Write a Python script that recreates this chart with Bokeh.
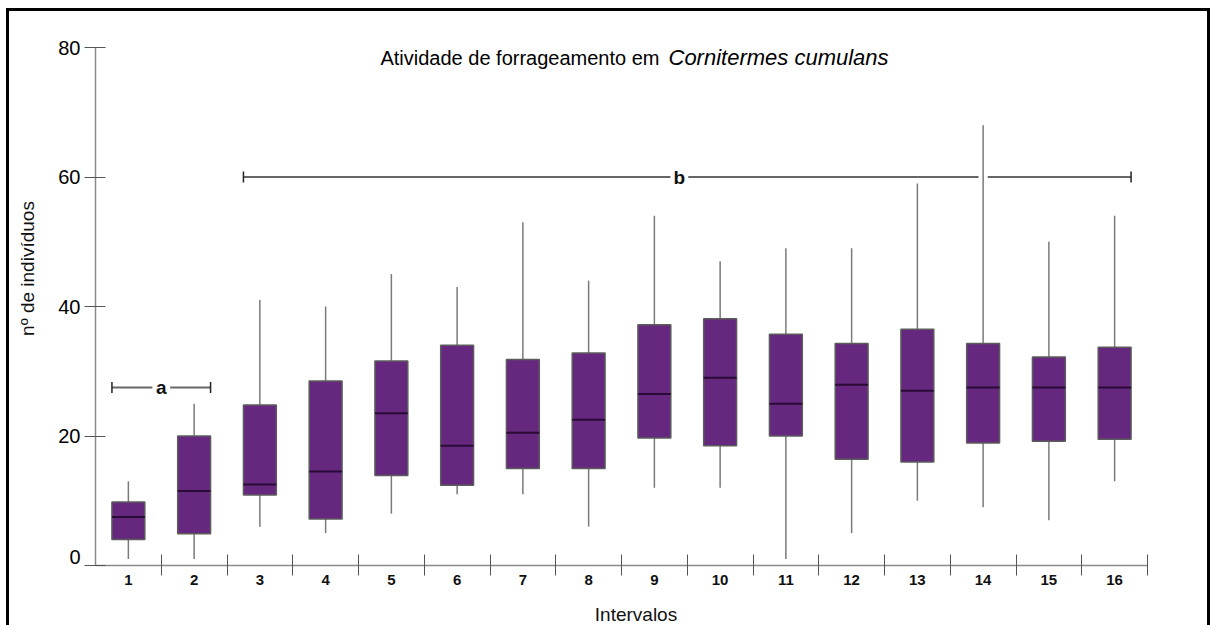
import math
from bokeh.plotting import figure
from bokeh.models import FixedTicker, Label, LinearAxis
from bokeh.embed import file_html
from bokeh.resources import INLINE

# ---- data ----
intervals = list(range(1, 17))
tick_labels = [str(i) for i in intervals]
whisker_low = [1, 1, 6, 5, 8, 11, 11, 6, 12, 12, 1, 5, 10, 9, 7, 13]
q1 = [4.0, 4.9, 10.9, 7.2, 13.9, 12.4, 15.0, 15.0, 19.7, 18.5, 20.0, 16.4, 16.0, 18.9, 19.2, 19.5]
median = [7.5, 11.5, 12.5, 14.5, 23.5, 18.5, 20.5, 22.5, 26.5, 29.0, 25.0, 27.9, 27.0, 27.5, 27.5, 27.5]
q3 = [9.8, 20.0, 24.8, 28.5, 31.6, 34.0, 31.8, 32.8, 37.2, 38.1, 35.7, 34.3, 36.5, 34.3, 32.2, 33.7]
whisker_high = [13, 25, 41, 40, 45, 43, 53, 44, 54, 47, 49, 49, 59, 68, 50, 54]
y_ticks = [0, 20, 40, 60, 80]
group_labels = ["a", "b"]
group_first = [1, 3]
group_last = [2, 16]
group_y = [27.5, 60]

FONT = "Liberation Sans"
BOX_W = 0.5
PURPLE = "#65287e"

# ---- page geometry (pixels) ----
CANVAS_L, CANVAS_T, CANVAS_W, CANVAS_H = 9, 11, 1198, 614
AX_L, AX_R, AX_T, AX_B = 95, 1147, 47, 565          # axis extents on the page
X_LO, X_HI = 0.5, 16.5
Y_LO, Y_HI = y_ticks[0], y_ticks[-1]
sx = (AX_R - AX_L) / (X_HI - X_LO)
sy = (AX_B - AX_T) / (Y_HI - Y_LO)


def px_to_x(px):
    return X_LO + (px - AX_L) / sx


def py_to_y(py):
    return Y_LO + (AX_B - py) / sy


x_start, x_end = px_to_x(CANVAS_L), px_to_x(CANVAS_L + CANVAS_W)
y_start, y_end = py_to_y(CANVAS_T + CANVAS_H), py_to_y(CANVAS_T)

p = figure(width=CANVAS_W, height=CANVAS_H, output_backend="svg", toolbar_location=None,
           x_range=(x_start, x_end), y_range=(y_start, y_end),
           x_axis_type=None, y_axis_type=None,
           min_border_left=0, min_border_right=0, min_border_top=0, min_border_bottom=0)
p.margin = (CANVAS_T, 0, 0, CANVAS_L)
p.styles = {"outline": "3px solid black"}
p.outline_line_color = None
p.xgrid.visible = False
p.ygrid.visible = False
p.background_fill_color = "white"
p.border_fill_color = "white"

# y axis
yax = LinearAxis(ticker=FixedTicker(ticks=y_ticks, minor_ticks=[]),
                 fixed_location=X_LO, bounds=(Y_LO, Y_HI))
yax.major_label_overrides = {0: ""}
yax.axis_line_color = "#8a8a8a"
yax.axis_line_width = 1.5
yax.major_tick_in = 10
yax.major_tick_out = 11
yax.major_tick_line_color = "#555555"
yax.major_tick_line_width = 1
yax.minor_tick_line_color = None
yax.major_label_standoff = 4
yax.major_label_text_font = FONT
yax.major_label_text_font_size = "20px"
yax.major_label_text_color = "#000000"
p.add_layout(yax, "left")
# the zero label sits a little above the axis line in the original
p.add_layout(Label(x=px_to_x(80), y=py_to_y(556), text=str(y_ticks[0]), text_align="right",
                   text_baseline="middle", text_font=FONT, text_font_size="20px",
                   text_color="#000000"))

# x axis
xax = LinearAxis(ticker=FixedTicker(ticks=intervals, minor_ticks=[i + 0.5 for i in intervals]),
                 fixed_location=Y_LO, bounds=(X_LO, X_HI))
xax.major_label_overrides = {i: t for i, t in zip(intervals, tick_labels)}
xax.axis_line_color = "#8a8a8a"
xax.axis_line_width = 1.5
xax.major_tick_in = 0
xax.major_tick_out = 0
xax.minor_tick_in = 11
xax.minor_tick_out = 10
xax.minor_tick_line_color = "#555555"
xax.minor_tick_line_width = 1
xax.major_label_standoff = -1
xax.major_label_text_font = FONT
xax.major_label_text_font_size = "15px"
xax.major_label_text_font_style = "bold"
xax.major_label_text_color = "#111111"
p.add_layout(xax, "below")

# axis titles
p.add_layout(Label(x=px_to_x(635.5), y=py_to_y(614), text="Intervalos", text_align="center",
                   text_baseline="middle", text_font=FONT, text_font_size="19px",
                   text_color="#111111"))
p.add_layout(Label(x=px_to_x(27), y=py_to_y(268), text="nº de indivíduos", text_align="center",
                   text_baseline="middle", angle=math.pi / 2, text_font=FONT,
                   text_font_size="19px", text_color="#111111"))

# whiskers
p.segment(x0=intervals, y0=q3, x1=intervals, y1=whisker_high, line_color="#7a7a7a", line_width=1.5)
p.segment(x0=intervals, y0=whisker_low, x1=intervals, y1=q1, line_color="#7a7a7a", line_width=1.5)
# boxes
p.vbar(x=intervals, width=BOX_W, bottom=q1, top=q3, fill_color=PURPLE,
       line_color="#5c5c5c", line_width=1.5)
# medians
p.segment(x0=[i - BOX_W / 2 for i in intervals], y0=median,
          x1=[i + BOX_W / 2 for i in intervals], y1=median,
          line_color="#2a0a36", line_width=2)

# significance brackets
label_x = [(f + l) / 2 for f, l in zip(group_first, group_last)]
label_x[1] -= 0.12
for lab, f, l, y, lx in zip(group_labels, group_first, group_last, group_y, label_x):
    left = f - BOX_W / 2
    right = l + BOX_W / 2
    gaps = [(lx - 0.135, lx + 0.135)]
    for i, hi in zip(intervals, whisker_high):
        if f <= i <= l and hi > y:
            gaps.append((i - 0.07, i + 0.07))
    gaps.sort()
    xs0, xs1 = [], []
    cur = left
    for g0, g1 in gaps:
        xs0.append(cur)
        xs1.append(g0)
        cur = g1
    xs0.append(cur)
    xs1.append(right)
    p.segment(x0=xs0, y0=[y] * len(xs0), x1=xs1, y1=[y] * len(xs0),
              line_color="#666666", line_width=2)
    p.segment(x0=[left, right], y0=[y - 0.85, y - 0.85], x1=[left, right], y1=[y + 0.85, y + 0.85],
              line_color="#222222", line_width=1.5)
    p.add_layout(Label(x=lx, y=y, text=lab, text_align="center", text_baseline="middle",
                       text_font=FONT, text_font_size="19px", text_font_style="bold",
                       text_color="#111111"))

# title (inside plot area), italic species name
p.add_layout(Label(x=px_to_x(659), y=py_to_y(57), text="Atividade de forrageamento em",
                   text_align="right", text_baseline="middle", text_font=FONT,
                   text_font_size="20px", text_color="#000000"))
p.add_layout(Label(x=px_to_x(668), y=py_to_y(57), text="Cornitermes cumulans", text_align="left",
                   text_baseline="middle", text_font=FONT, text_font_size="22px",
                   text_font_style="italic", text_color="#000000"))

open("out.html", "w").write(file_html(p, INLINE))
